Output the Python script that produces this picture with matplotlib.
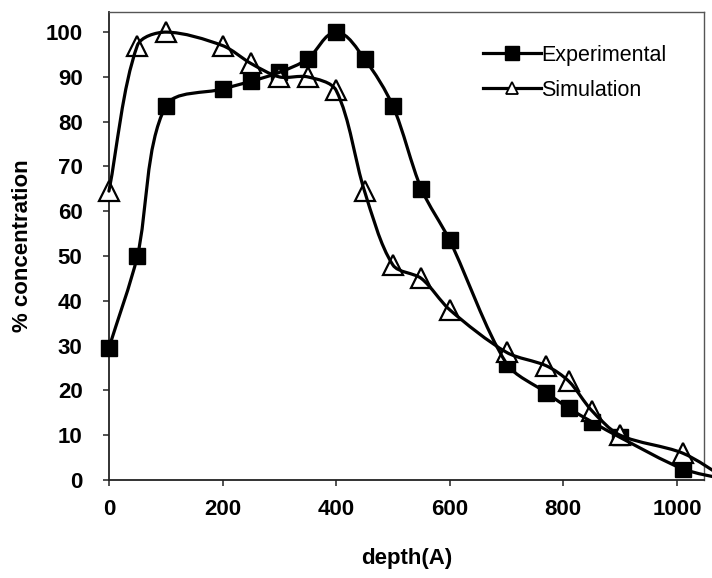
import matplotlib
matplotlib.use("Agg")
import matplotlib.pyplot as plt
import numpy as np
from matplotlib.lines import Line2D
from matplotlib.patches import PathPatch
from matplotlib.path import Path
from matplotlib.transforms import IdentityTransform

# depth profile, % of peak concentration
exp_depth = [0, 50, 100, 200, 250, 300, 350, 400, 450, 500, 550, 600,
             700, 770, 810, 850, 900, 1010, 1090]
exp_conc = [29.5, 50, 83.5, 87.3, 89, 91, 94, 100, 94, 83.5, 65, 53.5,
            26, 19.5, 16, 13, 9.5, 2.5, 0]

sim_depth = [0, 50, 100, 200, 250, 300, 350, 400, 450, 500, 550, 600,
             700, 770, 810, 850, 900, 1010, 1090]
sim_conc = [64.5, 97, 100, 97, 93, 90, 90, 87, 64.5, 48, 45, 38,
            28.5, 25.5, 22, 15.5, 10, 6, 0]

x_ticks = [0, 200, 400, 600, 800, 1000]
y_ticks = list(range(0, 101, 10))

plt.rcParams["font.family"] = ["Liberation Sans", "DejaVu Sans"]

fig = plt.figure(figsize=(7.12, 5.78), dpi=100)
ax = fig.add_axes([0.153, 0.1696, 0.836, 0.8097])
ax.set_xlim(0, 1048)
ax.set_ylim(0, 104.5)


def smooth_path(xs, ys, k=0.3):
    """Smoothed line through the points: cubic Bezier segments in display
    space, tangent length scaled by each segment's own length."""
    pts = ax.transData.transform(np.column_stack([xs, ys]))
    verts = [pts[0]]
    codes = [Path.MOVETO]
    n = len(pts)

    def tangent(i):
        d = pts[min(i + 1, n - 1)] - pts[max(i - 1, 0)]
        return d / np.hypot(*d)

    for i in range(n - 1):
        p1, p2 = pts[i], pts[i + 1]
        seg = np.hypot(*(p2 - p1))
        c1 = p1 + tangent(i) * seg * k
        c2 = p2 - tangent(i + 1) * seg * k
        verts += [c1, c2, p2]
        codes += [Path.CURVE4] * 3
    return Path(verts, codes)


lw = 2.3
for xs, ys, z in [(exp_depth, exp_conc, 2), (sim_depth, sim_conc, 4)]:
    patch = PathPatch(smooth_path(xs, ys), facecolor="none", edgecolor="black",
                      lw=lw, transform=IdentityTransform(), zorder=z,
                      capstyle="round", joinstyle="round")
    patch.set_clip_on(False)
    fig.add_artist(patch)

ax.plot(exp_depth, exp_conc, ls="none", marker="s", ms=11,
        mfc="black", mec="black", zorder=3, clip_on=False)
ax.plot(sim_depth, sim_conc, ls="none", marker="^", ms=14,
        mfc="white", mec="black", mew=1.6, zorder=5, clip_on=False)

ax.set_xticks(x_ticks)
ax.set_yticks(y_ticks)
ax.tick_params(direction="out", length=4, width=1.2, labelsize=16,
               color="#333333")
ax.tick_params(axis="x", pad=10)
ax.tick_params(axis="y", pad=15)
for lab in ax.get_xticklabels() + ax.get_yticklabels():
    lab.set_fontweight("bold")

for side in ("left", "bottom"):
    ax.spines[side].set_linewidth(1.3)
    ax.spines[side].set_color("#222222")
for side in ("top", "right"):
    ax.spines[side].set_linewidth(1.0)
    ax.spines[side].set_color("#555555")

ax.set_xlabel("depth(A)", fontsize=16, fontweight="bold", labelpad=20)
ax.set_ylabel("% concentration", fontsize=16, fontweight="bold", labelpad=9)

handles = [
    Line2D([], [], color="black", lw=lw, marker="s", ms=10.5, mfc="black"),
    Line2D([], [], color="black", lw=lw, marker="^", ms=9, mfc="white",
           mew=1.3),
]
ax.legend(handles, ["Experimental", "Simulation"], loc="upper left",
          bbox_to_anchor=(0.628, 0.93), frameon=False, fontsize=15.5,
          handlelength=2.7, handletextpad=0.0, labelspacing=0.65,
          borderpad=0, borderaxespad=0)

fig.savefig("out.png", dpi=100)
